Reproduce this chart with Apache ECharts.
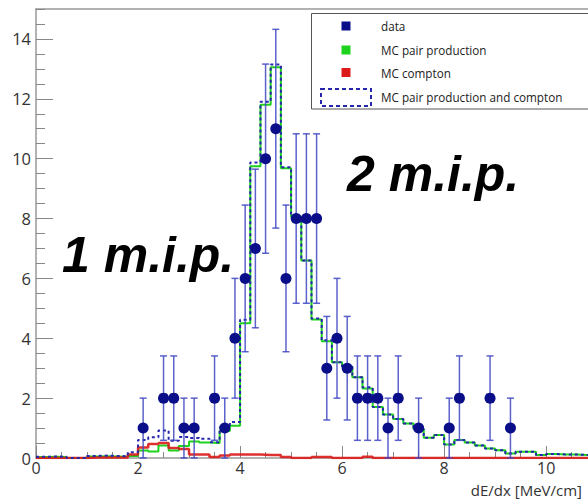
<!DOCTYPE html>
<html><head><meta charset="utf-8">
<script src="https://cdn.jsdelivr.net/npm/echarts@6/dist/echarts.min.js"></script>
<style>html,body{margin:0;padding:0;background:#fff}#c{width:588px;height:499px}</style>
</head><body><div id="c"></div>
<script>
// ---- data ----
const binWidth = 0.2;          // histogram bin width (MeV/cm)
const pairProd = [0.03,0.04,0.03,0,0, 0.05,0.06,0.05,0.04,0.07, 0.25,0.22,0.42,0.25,0.40, 0.55,0.52,0.50,0.90,1.08,
  4.50,9.75,11.80,13.05,9.68, 8.06,6.60,4.63,3.90,3.20, 3.05,2.70,2.32,1.70,1.45, 1.30,1.15,0.97,0.68,0.77,
  0.45,0.60,0.52,0.42,0.32, 0.26,0.15,0.21,0.21,0.10, 0.13,0.12,0.12,0.10,0.10];
const compton = [0,0,0,0,0, 0.02,0.02,0.02,0.02,0.12, 0.35,0.47,0.50,0.33,0.30, 0.12,0.12,0.03,0.08,0.12,
  0.12,0.12,0.10,0.10,0.03, 0,0,0.03,0.03,0, 0,0,0.04,0,0, 0,0,0,0,0,
  0,0,0,0,0, 0,0,0,0,0, 0,0,0,0,0];
const pairPlusCompton = [0.04,0.05,0.04,0,0, 0.07,0.08,0.07,0.06,0.19, 0.60,0.69,0.92,0.58,0.70, 0.67,0.64,0.53,1.02,1.20,
  4.62,9.87,11.90,13.15,9.71, 8.06,6.60,4.66,3.93,3.20, 3.05,2.70,2.36,1.70,1.45, 1.30,1.15,0.97,0.68,0.77,
  0.45,0.60,0.52,0.42,0.32, 0.26,0.15,0.21,0.21,0.10, 0.13,0.12,0.12,0.10,0.10];
const dataX   = [2.1,2.5,2.7,2.9,3.1,3.5,3.7,3.9,4.1,4.3,4.5,4.7,4.9,5.1,5.3,5.5,5.7,5.9,6.1,6.3,6.5,6.7,6.9,7.1,7.5,8.1,8.3,8.9,9.3];
const dataN   = [1,2,2,1,1,2,1,4,6,7,10,11,6,8,8,8,3,4,3,2,2,2,1,2,1,1,2,2,1];
const dataErr = [1,1.41,1.41,1,1,1.41,1,2,2.45,2.65,3.16,3.32,2.45,2.83,2.83,2.83,1.73,2,1.73,1.41,1.41,1.41,1,1.41,1,1,1.41,1.41,1];
const legendLabels = ['data','MC pair production','MC compton','MC pair production and compton'];
const peakLabels = ['1 m.i.p.','2 m.i.p.'];
const xTitle = 'dE/dx [MeV/cm]';
const xMax = 10.82, yMax = 15;

// ---- build ----
function stepData(vals){
  const pts = vals.map((v,i)=>[+(i*binWidth).toFixed(2), v]);
  pts.push([+(vals.length*binWidth).toFixed(2), vals[vals.length-1]]);
  return pts;
}
const C_DATA='#0a0e88', C_GREEN='#1ed21e', C_RED='#dc1a1a', C_SUM='#2626ad', C_ERR='#3f47c2';
const FONT='"Open Sans", "Noto Sans", sans-serif';
const axisGray='#999';

const chart = echarts.init(document.getElementById('c'), null, {renderer:'svg'});
chart.setOption({
  animation:false,
  backgroundColor:'#fff',
  grid:{left:36, top:9, right:0, bottom:41},
  xAxis:[
    {type:'value', min:0, max:xMax, interval:2,
     axisLine:{show:true, onZero:false, lineStyle:{color:axisGray, width:1.5}},
     axisTick:{inside:true, length:12, lineStyle:{color:'#888'}},
     axisLabel:{fontSize:16, color:'#333', margin:2, fontFamily:FONT, showMaxLabel:false},
     splitLine:{show:false}},
    {type:'value', min:0, max:xMax, interval:0.5, position:'bottom',
     axisLine:{show:false}, axisTick:{inside:true, length:6, lineStyle:{color:'#888'}},
     axisLabel:{show:false}, splitLine:{show:false}},
    {type:'value', min:0, max:xMax, position:'top',
     axisLine:{show:true, onZero:false, lineStyle:{color:axisGray, width:1.5}},
     axisTick:{show:false}, axisLabel:{show:false}, splitLine:{show:false}}
  ],
  yAxis:[
    {type:'value', min:0, max:yMax, interval:2, position:'left',
     axisLine:{show:true, onZero:false, lineStyle:{color:axisGray, width:1.5}},
     axisTick:{inside:true, length:17, lineStyle:{color:'#888'}},
     axisLabel:{fontSize:16.5, color:'#333', margin:5, fontFamily:FONT, showMaxLabel:false},
     splitLine:{show:false}},
    {type:'value', min:0, max:yMax, interval:0.5, position:'left',
     axisLine:{show:false}, axisTick:{inside:true, length:9, lineStyle:{color:'#888'}},
     axisLabel:{show:false}, splitLine:{show:false}}
  ],
  series:[
    {name:legendLabels[1], type:'line', step:'end', data:stepData(pairProd), showSymbol:false, z:2,
     lineStyle:{color:C_GREEN, width:2}},
    {name:legendLabels[2], type:'line', step:'end', data:stepData(compton), showSymbol:false, z:3,
     lineStyle:{color:C_RED, width:2.5, opacity:0.9}},
    {name:legendLabels[3], type:'line', step:'end', data:stepData(pairPlusCompton), showSymbol:false, z:4,
     lineStyle:{color:C_SUM, width:2, type:[3,3]}},
    {name:'err', type:'custom', z:5, encode:{x:0,y:1},
     data:dataX.map((x,i)=>[x,dataN[i],dataErr[i]]),
     renderItem:(params, api)=>{
       const x=api.value(0), y=api.value(1), e=api.value(2);
       const t=api.coord([x,y+e]), b=api.coord([x,Math.max(0,y-e)]);
       const hw=3.5, st={stroke:C_ERR, lineWidth:1.5, opacity:0.85};
       return {type:'group', children:[
         {type:'line', shape:{x1:t[0],y1:t[1],x2:b[0],y2:b[1]}, style:st},
         {type:'line', shape:{x1:t[0]-hw,y1:t[1],x2:t[0]+hw,y2:t[1]}, style:st},
         {type:'line', shape:{x1:b[0]-hw,y1:b[1],x2:b[0]+hw,y2:b[1]}, style:st}
       ]};
     }},
    {name:legendLabels[0], type:'scatter', z:6, symbol:'circle', symbolSize:11,
     data:dataX.map((x,i)=>[x,dataN[i]]), itemStyle:{color:C_DATA, opacity:1}}
  ],
  graphic:[
    {type:'rect', z:100, shape:{x:311.5,y:13.5,width:300,height:95.5}, style:{fill:'#fff', stroke:'#555', lineWidth:1}},
    {type:'rect', z:101, shape:{x:341.5,y:21.5,width:9,height:9}, style:{fill:C_DATA}},
    {type:'rect', z:101, shape:{x:341.5,y:45.5,width:9,height:9}, style:{fill:C_GREEN}},
    {type:'rect', z:101, shape:{x:341.5,y:68,width:9,height:9}, style:{fill:C_RED}},
    {type:'rect', z:101, shape:{x:321,y:89,width:50,height:17}, style:{fill:'none', stroke:C_SUM, lineWidth:2, lineDash:[4,3]}},
    ...legendLabels.map((t,i)=>({type:'text', z:101, x:381, y:[26,50,73,97][i],
      style:{text:t, fontSize:11.7, fontFamily:FONT, fill:'#222', align:'left', verticalAlign:'middle'}})),
    {type:'text', z:101, x:62, y:255, style:{text:peakLabels[0], fontSize:50, fontWeight:'bold', fontStyle:'italic',
      fontFamily:'"Liberation Sans", Arial, sans-serif', fill:'#000', align:'left', verticalAlign:'middle'}},
    {type:'text', z:101, x:347, y:174, style:{text:peakLabels[1], fontSize:50, fontWeight:'bold', fontStyle:'italic',
      fontFamily:'"Liberation Sans", Arial, sans-serif', fill:'#000', align:'left', verticalAlign:'middle'}},
    {type:'text', z:101, x:582, y:489.5, style:{text:xTitle, fontSize:15, fontFamily:FONT, fill:'#333', align:'right', verticalAlign:'middle'}}
  ]
});
</script></body></html>
